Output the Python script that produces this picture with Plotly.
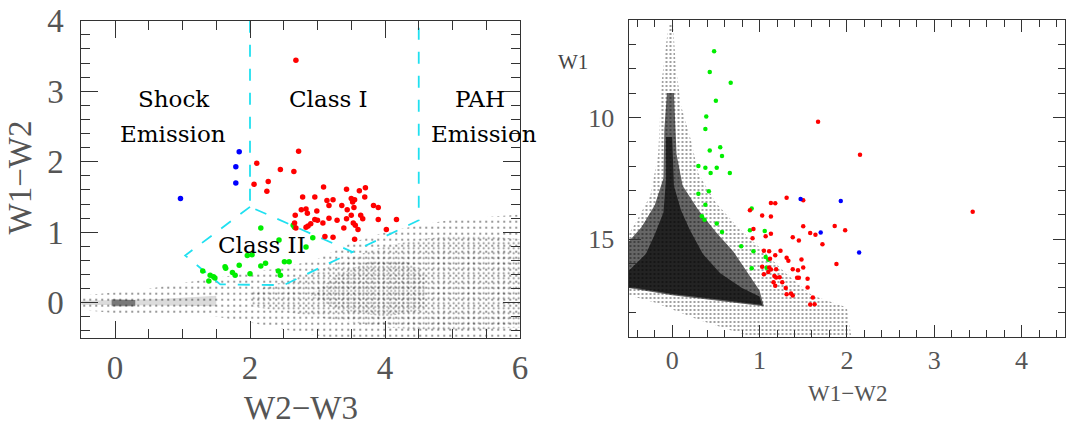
import plotly.graph_objects as go

# ---------------- data: left panel (W2-W3 vs W1-W2) ----------------
red_w23 = [2.68, 2.72, 2.10, 2.45, 2.65, 2.06, 2.27, 2.25, 3.09, 3.43, 3.62, 3.71, 2.78, 2.96,
           3.14, 3.23, 3.36, 3.50, 3.55, 3.52, 3.70, 3.17, 2.76, 2.83, 2.99, 2.85, 2.67, 3.44,
           3.54, 3.83, 3.90, 2.96, 3.00, 3.08, 2.90, 2.83, 2.86, 3.17, 3.29, 3.43, 3.50, 3.64,
           3.67, 3.53, 3.56, 3.39, 3.60, 3.90, 4.17, 4.02, 2.66, 2.68, 3.11, 3.23, 3.55]
red_w12 = [3.44, 2.15, 1.98, 1.89, 1.86, 1.68, 1.72, 1.58, 1.64, 1.61, 1.59, 1.63, 1.50, 1.50,
           1.45, 1.46, 1.38, 1.48, 1.46, 1.43, 1.50, 1.38, 1.32, 1.33, 1.30, 1.27, 1.24, 1.32,
           1.35, 1.38, 1.35, 1.18, 1.17, 1.13, 1.12, 1.07, 1.09, 1.20, 1.17, 1.19, 1.24, 1.24,
           1.19, 1.13, 1.10, 1.06, 1.04, 1.18, 1.18, 1.04, 1.13, 1.06, 0.94, 0.93, 0.90]
green_w23 = [2.16, 2.64, 2.66, 2.93, 2.43, 2.83, 1.96, 2.03, 1.63, 1.64, 1.84, 2.16, 2.23, 2.51,
             2.58, 1.30, 1.41, 1.46, 1.48, 1.39, 1.74, 1.78, 2.00, 2.42, 2.45]
green_w12 = [1.06, 1.10, 1.07, 0.92, 0.89, 0.79, 0.67, 0.68, 0.51, 0.49, 0.53, 0.52, 0.56, 0.58,
             0.58, 0.45, 0.39, 0.37, 0.35, 0.31, 0.43, 0.39, 0.41, 0.45, 0.39]
blue_w23 = [1.84, 1.79, 1.79, 0.97]
blue_w12 = [2.14, 1.93, 1.70, 1.48]

# classification boundaries (W2-W3, W1-W2)
classI_x = [2.0, 2.0, 3.52, 4.5, 4.5]
classI_y = [4.0, 1.36, 0.72, 1.17, 4.0]
classII_x = [2.0, 1.04, 1.56, 2.5, 3.52]
classII_y = [1.36, 0.67, 0.26, 0.25, 0.72]

# background field-star cloud, outlines (W2-W3, W1-W2)
cloudL_sparse_x = [-0.5, 0.0, 0.5, 1.0, 1.5, 2.0, 2.5, 3.0, 3.5, 4.0, 4.5, 5.0, 5.5, 6.0,
                   6.0, 3.2, 2.5, 2.0, 1.5, 1.0, 0.5, 0.0, -0.5]
cloudL_sparse_y = [0.10, 0.15, 0.20, 0.28, 0.35, 0.42, 0.50, 0.62, 0.85, 1.00, 1.10, 1.18, 1.22, 1.25,
                   -0.5, -0.5, -0.38, -0.28, -0.20, -0.15, -0.15, -0.15, -0.10]
cloudL_mid_x = [2.0, 2.5, 3.0, 3.5, 4.0, 4.5, 5.0, 5.5, 6.0, 6.0, 5.0, 4.0, 3.0, 2.5, 2.0]
cloudL_mid_y = [0.15, 0.30, 0.45, 0.65, 0.80, 0.90, 0.95, 0.95, 0.90, -0.35, -0.40, -0.35, -0.20, -0.12, -0.05]
cloudL_core_x = [2.9, 3.3, 3.8, 4.3, 4.6, 4.6, 4.0, 3.3]
cloudL_core_y = [0.10, 0.40, 0.60, 0.60, 0.40, -0.10, -0.20, -0.10]
streak_x = [-0.5, 0.6, 1.5, 1.5, 0.6, -0.5]
streak_y = [0.03, 0.05, 0.10, -0.05, -0.04, -0.03]
blob_x = [-0.05, 0.30, 0.30, -0.05]
blob_y = [0.05, 0.04, -0.05, -0.05]

# ---------------- data: right panel (W1-W2 vs W1) ----------------
rred_w12 = [1.67, 2.15, 3.44, 1.31, 1.50, 1.13, 1.18, 0.89, 1.03, 1.13, 1.50, 1.86, 1.98, 1.58,
            1.64, 0.93, 0.92, 1.07, 1.13, 1.38, 1.45, 1.72, 1.05, 1.11, 1.24, 1.18, 1.12, 1.31,
            1.33, 1.48, 1.88, 1.03, 1.11, 1.13, 1.19, 1.38, 1.44, 1.50, 1.05, 1.10, 1.17, 1.19,
            1.23, 1.43, 1.45, 1.55, 1.16, 1.26, 1.18, 1.55, 1.30, 1.31, 1.36, 1.38, 1.61, 1.58, 1.63]
rred_w1 = [10.18, 11.53, 13.87, 13.30, 13.40, 13.51, 13.52, 13.81, 14.03, 14.07, 14.47, 14.46, 14.63, 14.74,
           14.81, 14.58, 14.96, 14.88, 14.77, 14.92, 15.05, 15.20, 15.47, 15.49, 15.47, 15.66, 15.80, 15.76,
           15.88, 15.83, 16.02, 16.13, 16.16, 16.24, 16.23, 16.23, 16.27, 16.16, 16.44, 16.34, 16.51, 16.57,
           16.56, 16.58, 16.58, 16.62, 16.77, 16.77, 16.91, 16.98, 17.00, 17.26, 17.23, 17.31, 17.39, 17.68, 17.67]
rgreen_w12 = [0.48, 0.43, 0.67, 0.50, 0.39, 0.38, 0.55, 0.43, 0.57, 0.30, 0.38, 0.51, 0.44, 0.66,
              0.30, 0.42, 0.38, 0.34, 0.37, 0.51, 0.57, 0.79, 0.91, 0.89, 1.06, 0.93, 1.07, 1.10,
              0.91, 1.08]
rgreen_w1 = [7.28, 8.13, 8.58, 9.31, 9.96, 10.47, 11.22, 11.36, 11.58, 11.99, 12.07, 12.06, 12.28, 12.28,
             13.13, 13.03, 13.58, 14.06, 14.20, 14.35, 14.70, 15.29, 13.74, 14.63, 14.66, 15.49, 15.73, 15.84,
             16.19, 16.17]
rblue_w12 = [1.47, 1.93, 1.70, 2.14]
rblue_w1 = [13.35, 13.43, 14.72, 15.54]

cloudR_sparse_x = [-0.04, 0.01, 0.04, 0.10, 0.22, 0.30, 0.50, 0.75, 1.05, 1.30, 1.60, 2.00, 2.05,
                   0.90, 0.30, -0.20, -0.50, -0.50, -0.40, -0.25, -0.16, -0.12, -0.07]
cloudR_sparse_y = [6.2, 6.2, 7.8, 9.5, 11.0, 12.3, 13.5, 14.5, 15.5, 16.4, 17.3, 17.8, 19.0,
                   19.0, 18.3, 17.6, 17.3, 14.8, 14.2, 13.2, 11.5, 8.5, 7.0]
cloudR_mid_x = [-0.06, 0.02, 0.05, 0.12, 0.30, 0.50, 0.70, 0.85, 1.00, 1.05, 0.60, 0.00, -0.50,
                -0.50, -0.35, -0.20, -0.10, -0.09]
cloudR_mid_y = [9.0, 9.0, 11.5, 12.8, 13.8, 14.7, 15.5, 16.3, 17.1, 17.75, 17.55, 17.3, 17.0,
                15.1, 14.5, 13.6, 12.5, 10.5]
cloudR_core_x = [-0.07, 0.00, 0.02, 0.10, 0.20, 0.35, 0.55, 0.80, 1.00, 1.03, 0.60, 0.00, -0.50,
                 -0.50, -0.30, -0.20, -0.10, -0.07]
cloudR_core_y = [10.8, 10.8, 12.8, 13.8, 14.6, 15.6, 16.4, 17.0, 17.35, 17.7, 17.5, 17.25, 16.95,
                 16.3, 15.6, 14.8, 13.9, 12.5]

# ---------------- figure ----------------
W, H = 1084, 428
fig = go.Figure()

def cloud(x, y, xa, ya, pattern=None, color=None):
    kw = dict(x=x, y=y, xaxis=xa, yaxis=ya, mode="lines", fill="toself",
              line=dict(width=0), hoverinfo="skip", showlegend=False)
    if pattern:
        kw["fillpattern"] = dict(shape=".", size=pattern[0], solidity=pattern[1],
                                 fgcolor="black", bgcolor="rgba(0,0,0,0)")
        kw["fillcolor"] = "rgba(0,0,0,0)"
    else:
        kw["fillcolor"] = color
    fig.add_trace(go.Scatter(**kw))

# left clouds
cloud(cloudL_sparse_x, cloudL_sparse_y, "x", "y", pattern=(6, 0.1))
cloud(cloudL_mid_x, cloudL_mid_y, "x", "y", pattern=(5, 0.12))
cloud(cloudL_core_x, cloudL_core_y, "x", "y", pattern=(4, 0.15))
cloud(streak_x, streak_y, "x", "y", color="rgba(0,0,0,0.14)")
cloud(blob_x, blob_y, "x", "y", color="rgba(0,0,0,0.45)")

# right clouds
cloud(cloudR_sparse_x, cloudR_sparse_y, "x2", "y2", pattern=(4, 0.2))
cloud(cloudR_mid_x, cloudR_mid_y, "x2", "y2", color="rgba(0,0,0,0.6)")
cloud(cloudR_core_x, cloudR_core_y, "x2", "y2", color="rgba(0,0,0,0.65)")

cyan = "#20e0f0"
for bx, by in [(classI_x, classI_y), (classII_x, classII_y)]:
    fig.add_trace(go.Scatter(x=bx, y=by, xaxis="x", yaxis="y", mode="lines",
                             line=dict(color=cyan, width=1.8, dash="12px,12px"),
                             hoverinfo="skip", showlegend=False))

def pts(x, y, xa, ya, color, size):
    fig.add_trace(go.Scatter(x=x, y=y, xaxis=xa, yaxis=ya, mode="markers",
                             marker=dict(color=color, size=size, line=dict(width=0)),
                             showlegend=False))

pts(green_w23, green_w12, "x", "y", "#00ee00", 5.5)
pts(red_w23, red_w12, "x", "y", "#ff0000", 5.5)
pts(blue_w23, blue_w12, "x", "y", "#0000ff", 5.5)
pts(rgreen_w12, rgreen_w1, "x2", "y2", "#00ee00", 4.5)
pts(rred_w12, rred_w1, "x2", "y2", "#ff0000", 4.5)
pts(rblue_w12, rblue_w1, "x2", "y2", "#0000ff", 4.5)

frame = "#333333"
tickfont_L = dict(family="Liberation Serif", size=33, color="#555555")
tickfont_R = dict(family="Liberation Serif", size=26, color="#555555")

def ax(domain, rng, dtick, mdtick, anchor, major, minor, font, standoff):
    return dict(domain=domain, range=rng, anchor=anchor, dtick=dtick, tick0=0,
                automargin=False,
                showline=True, linecolor=frame, linewidth=1, mirror="ticks",
                ticks="inside", ticklen=major, tickcolor=frame, tickwidth=1,
                minor=dict(dtick=mdtick, ticks="inside", ticklen=minor, tickcolor=frame, tickwidth=1),
                showgrid=False, zeroline=False, tickfont=font, ticklabelstandoff=standoff,
                fixedrange=True)

fig.update_layout(
    width=W, height=H, autosize=False,
    margin=dict(l=0, r=0, t=0, b=0, autoexpand=False),
    paper_bgcolor="white", plot_bgcolor="white",
    xaxis=ax([81.25 / W, 520 / W], [-0.5, 6], 2, 0.5, "y", 17, 9, tickfont_L, 0),
    yaxis=ax([1 - 338 / H, 1 - 20.7 / H], [-0.5, 4], 1, 0.2, "x", 17, 9, tickfont_L, 10),
    xaxis2=ax([628.5 / W, 1065.3 / W], [-0.5, 4.5], 1, 0.2, "y2", 12, 7, tickfont_R, 0),
    yaxis2=ax([1 - 336.7 / H, 1 - 20 / H], [19, 6], 5, 1, "x2", 12, 7, tickfont_R, 8),
)

def ann(text, x, y, xref, yref, font, angle=0):
    fig.add_annotation(text=text, x=x, y=y, xref=xref, yref=yref, showarrow=False,
                       xanchor="center", yanchor="middle", font=font, textangle=angle)

title_L = dict(family="Liberation Serif", size=33, color="#555555")
title_R = dict(family="Liberation Serif", size=23, color="#555555")
region = dict(family="DejaVu Serif", size=23, color="black")

ann("W2\u2212W3", 301 / W, 1 - 408 / H, "paper", "paper", title_L)
ann("W1\u2212W2", 20 / W, 1 - 177.5 / H, "paper", "paper", title_L, angle=-90)
ann("W1\u2212W2", 847 / W, 1 - 393 / H, "paper", "paper", title_R)
ann("W1", 573.3 / W, 1 - 62.3 / H, "paper", "paper", dict(family="Liberation Serif", size=21, color="#444444"))

ann("Shock", 0.87, 2.89, "x", "y", region)
ann("Emission", 0.86, 2.40, "x", "y", region)
ann("Class I", 3.16, 2.89, "x", "y", region)
ann("PAH", 5.41, 2.89, "x", "y", region)
ann("Emission", 5.47, 2.40, "x", "y", region)
ann("Class II", 2.185, 0.818, "x", "y", region)

fig.write_html("out.html")
